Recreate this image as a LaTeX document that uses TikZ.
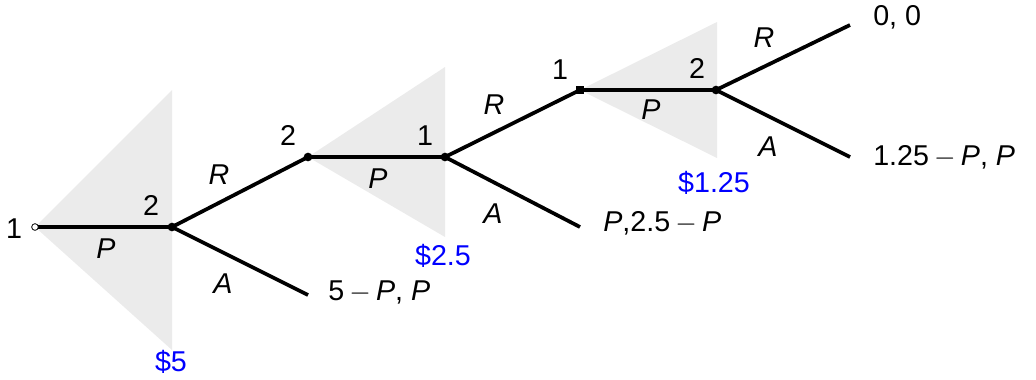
\documentclass[tikz,border=0pt]{standalone}
\usepackage{fontspec}
\setmainfont{Liberation Sans}
\newcommand{\mns}{\hspace{0.18em}$-$\hspace{0.18em}}
\begin{document}
\begin{tikzpicture}[x=0.75pt,y=-0.75pt,
  edge/.style={line width=2.8pt},
  dotnode/.style={circle, fill=black, inner sep=0pt, minimum size=6.5pt},
  opennode/.style={circle, draw=black, fill=white, line width=0.6pt, inner sep=0pt, minimum size=5pt},
  lbl/.style={font=\fontsize{21.5}{25}\selectfont, inner sep=0pt},
  price/.style={lbl, text=blue}]
\useasboundingbox (0,0) rectangle (1036,379);
% shaded triangles
\fill[black!8] (35,227) -- (172,90) -- (172,350) -- cycle;
\fill[black!8] (308,157) -- (445,67) -- (445,237) -- cycle;
\fill[black!8] (580,90) -- (717,22) -- (717,158) -- cycle;
% coordinates for nodes
\coordinate (n0) at (35,227);
\coordinate (n1) at (172,227);
\coordinate (n2) at (308,157);
\coordinate (n3) at (445,157);
\coordinate (n4) at (580,90);
\coordinate (n5) at (716,90);
\coordinate (t1) at (308,295);
\coordinate (t2) at (580,227);
\coordinate (t3) at (850,25);
\coordinate (t4) at (850,157);
% edges
\draw[edge] (n0) -- (n1);
\draw[edge] (n1) -- (n2);
\draw[edge] (n1) -- (t1);
\draw[edge] (n2) -- (n3);
\draw[edge] (n3) -- (n4);
\draw[edge] (n3) -- (t2);
\draw[edge] (n4) -- (n5);
\draw[edge] (n5) -- (t3);
\draw[edge] (n5) -- (t4);
% decision nodes
\node[opennode] (d0) at (n0) {};
\node[dotnode] (d1) at (n1) {};
\node[dotnode] (d2) at (n2) {};
\node[dotnode] (d3) at (n3) {};
\node[dotnode, rectangle, minimum size=6pt] (d4) at (n4) {};
\node[dotnode] (d5) at (n5) {};
% player labels
\node[lbl] (p0) at (14,229) {1};
\node[lbl] (p1) at (151,205) {2};
\node[lbl] (p2) at (288,135) {2};
\node[lbl] (p3) at (425,136) {1};
\node[lbl] (p4) at (560,70) {1};
\node[lbl] (p5) at (697,68) {2};
% action labels
\node[lbl] (a1) at (106,249) {\textit{P}};
\node[lbl] (a2) at (219,175) {\textit{R}};
\node[lbl] (a3) at (223,284) {\textit{A}};
\node[lbl] (a4) at (378,179) {\textit{P}};
\node[lbl] (a5) at (494,105) {\textit{R}};
\node[lbl] (a6) at (493,214) {\textit{A}};
\node[lbl] (a7) at (651,110) {\textit{P}};
\node[lbl] (a8) at (764,38) {\textit{R}};
\node[lbl] (a9) at (768,147) {\textit{A}};
% payoffs
\node[lbl, anchor=west] (o1) at (328,292) {5\mns\textit{P}, \textit{P}};
\node[lbl, anchor=west] (o2) at (603,223) {\textit{P},2.5\mns\textit{P}};
\node[lbl, anchor=west] (o3) at (873,17) {0, 0};
\node[lbl, anchor=west] (o4) at (873,157) {1.25\mns\textit{P}, \textit{P}};
% prices
\node[price] (c1) at (171,362) {\$5};
\node[price] (c2) at (443,256) {\$2.5};
\node[price] (c3) at (714,183) {\$1.25};
\end{tikzpicture}
\end{document}
